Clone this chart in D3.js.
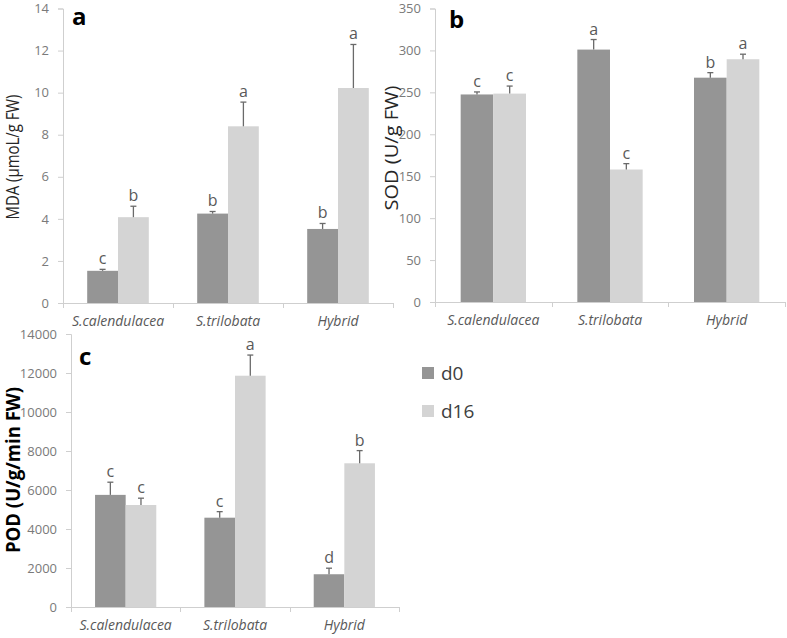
<!DOCTYPE html>
<html><head><meta charset="utf-8">
<script src="https://cdn.jsdelivr.net/npm/d3@7"></script>
<style>
body{margin:0;background:#fff;}
svg{display:block;}
</style></head>
<body>
<svg id="chart" width="787" height="638"></svg>
<script>
const categories = ["S.calendulacea", "S.trilobata", "Hybrid"];
const seriesNames = ["d0", "d16"];

const mdaD0 = [1.53, 4.25, 3.52];
const mdaD16 = [4.08, 8.40, 10.22];
const mdaErrD0 = [0.07, 0.10, 0.26];
const mdaErrD16 = [0.52, 1.15, 2.07];
const mdaLetD0 = ["c", "b", "b"];
const mdaLetD16 = ["b", "a", "a"];
const mdaTicks = [0, 2, 4, 6, 8, 10, 12, 14];

const sodD0 = [247.5, 301, 267.5];
const sodD16 = [248.5, 158, 289.5];
const sodErrD0 = [3, 12, 6];
const sodErrD16 = [9, 7, 6];
const sodLetD0 = ["c", "a", "b"];
const sodLetD16 = ["c", "c", "a"];
const sodTicks = [0, 50, 100, 150, 200, 250, 300, 350];

const podD0 = [5750, 4580, 1680];
const podD16 = [5230, 11860, 7370];
const podErrD0 = [650, 310, 310];
const podErrD16 = [350, 1060, 650];
const podLetD0 = ["c", "c", "d"];
const podLetD16 = ["c", "a", "b"];
const podTicks = [0, 2000, 4000, 6000, 8000, 10000, 12000, 14000];

const colors = {d0: "#959595", d16: "#d4d4d4"};
const FONT = "'Open Sans', sans-serif";

const svg = d3.select("#chart");

function panel(opt) {
  const g = svg.append("g");
  const x = d3.scaleBand().domain(categories).range([opt.x0, opt.x1]).padding(0);
  const gap = x.bandwidth() * 0.22;
  const xs = d3.scaleBand().domain(seriesNames).range([gap, x.bandwidth() - gap]).padding(0);
  const y = d3.scaleLinear().domain([opt.ticks[0], opt.ticks[opt.ticks.length - 1]]).range([opt.y0, opt.y1]);

  // y axis
  const ya = d3.axisLeft(y).tickValues(opt.ticks).tickFormat(d3.format("d")).tickSize(5).tickPadding(9);
  const yg = g.append("g").attr("transform", `translate(${opt.x0},0)`).call(ya);
  yg.select(".domain").attr("stroke", "#cfcfcf").attr("d", `M-5,${opt.y1 + 0.5}H0.5V${opt.y0 + 0.5}`);
  yg.selectAll(".tick line").attr("stroke", "#cfcfcf");
  yg.selectAll(".tick text").attr("fill", "#7a7a7a").style("font-family", FONT).style("font-size", "13px");

  // x axis
  const xa = d3.axisBottom(x).tickSize(0).tickPadding(13);
  const xg = g.append("g").attr("transform", `translate(0,${opt.y0})`).call(xa);
  xg.select(".domain").attr("stroke", "#cfcfcf").attr("d", `M${opt.x0},0.5H${opt.x1}`);
  xg.selectAll(".tick text").attr("fill", "#595959").style("font-family", FONT)
    .style("font-size", "14px").style("font-style", "italic").attr("dy", "0.71em");
  const seps = [opt.x0].concat(categories.map(c => x(c) + x.bandwidth()));
  xg.selectAll("line.sep").data(seps).enter().append("line").attr("class", "sep")
    .attr("x1", d => Math.round(d) + 0.5).attr("x2", d => Math.round(d) + 0.5)
    .attr("y1", 0).attr("y2", 5).attr("stroke", "#cfcfcf");

  const rows = [];
  categories.forEach((c, i) => {
    rows.push({c, s: "d0", v: opt.d0[i], e: opt.e0[i], l: opt.l0[i]});
    rows.push({c, s: "d16", v: opt.d16[i], e: opt.e16[i], l: opt.l16[i]});
  });

  g.selectAll("rect.bar").data(rows).enter().append("rect").attr("class", "bar")
    .attr("x", d => x(d.c) + xs(d.s))
    .attr("width", xs.bandwidth())
    .attr("y", d => y(d.v))
    .attr("height", d => y(0) - y(d.v))
    .attr("fill", d => colors[d.s]);

  const cx = d => x(d.c) + xs(d.s) + xs.bandwidth() / 2;
  g.selectAll("line.err").data(rows).enter().append("line").attr("class", "err")
    .attr("x1", cx).attr("x2", cx)
    .attr("y1", d => y(d.v)).attr("y2", d => y(d.v + d.e))
    .attr("stroke", "#6a6a6a").attr("stroke-width", 1.3);
  g.selectAll("line.cap").data(rows).enter().append("line").attr("class", "cap")
    .attr("x1", d => cx(d) - 3).attr("x2", d => cx(d) + 3)
    .attr("y1", d => y(d.v + d.e)).attr("y2", d => y(d.v + d.e))
    .attr("stroke", "#6a6a6a").attr("stroke-width", 1.3);

  g.selectAll("text.let").data(rows).enter().append("text").attr("class", "let")
    .attr("x", cx).attr("y", d => y(d.v + d.e) - 5)
    .attr("text-anchor", "middle").attr("fill", "#595959")
    .style("font-family", FONT).style("font-size", "16px").text(d => d.l);

  // panel letter
  g.append("text").attr("x", opt.letX).attr("y", opt.letY).text(opt.letter)
    .style("font-family", FONT).style("font-weight", "bold").style("font-size", "24px").attr("fill", "#000");

  // axis title
  g.append("text").attr("transform", `translate(${opt.titleX},${opt.titleY}) rotate(-90)`)
    .attr("text-anchor", "middle").text(opt.title)
    .attr("textLength", opt.titleLen).attr("lengthAdjust", "spacingAndGlyphs")
    .style("font-family", FONT).style("font-size", opt.titleSize)
    .style("font-weight", opt.titleWeight || "normal").attr("fill", opt.titleColor || "#262626");
}

panel({x0: 63, x1: 393, y0: 303, y1: 8.5, ticks: mdaTicks, d0: mdaD0, d16: mdaD16, e0: mdaErrD0, e16: mdaErrD16,
  l0: mdaLetD0, l16: mdaLetD16, letter: "a", letX: 72, letY: 25, title: "MDA (μmoL/g FW)",
  titleX: 19, titleY: 157, titleSize: "18px", titleLen: 125});
panel({x0: 435, x1: 785, y0: 302, y1: 8.5, ticks: sodTicks, d0: sodD0, d16: sodD16, e0: sodErrD0, e16: sodErrD16,
  l0: sodLetD0, l16: sodLetD16, letter: "b", letX: 449, letY: 28, title: "SOD (U/g FW)",
  titleX: 398, titleY: 148, titleSize: "18px", titleLen: 125});
panel({x0: 71, x1: 399, y0: 607, y1: 334, ticks: podTicks, d0: podD0, d16: podD16, e0: podErrD0, e16: podErrD16,
  l0: podLetD0, l16: podLetD16, letter: "c", letX: 79, letY: 365, title: "POD (U/g/min FW)",
  titleX: 20, titleY: 470, titleSize: "19px", titleLen: 166, titleWeight: "bold", titleColor: "#000"});

// legend
const leg = svg.append("g").selectAll("g").data(seriesNames).enter().append("g")
  .attr("transform", (d, i) => `translate(422,${367 + i * 38})`);
leg.append("rect").attr("width", 12).attr("height", 12).attr("fill", d => colors[d]);
leg.append("text").attr("x", 19).attr("y", 6).attr("dy", "0.35em").text(d => d)
  .style("font-family", FONT).style("font-size", "19px").attr("fill", "#404040");
</script>
</body></html>
